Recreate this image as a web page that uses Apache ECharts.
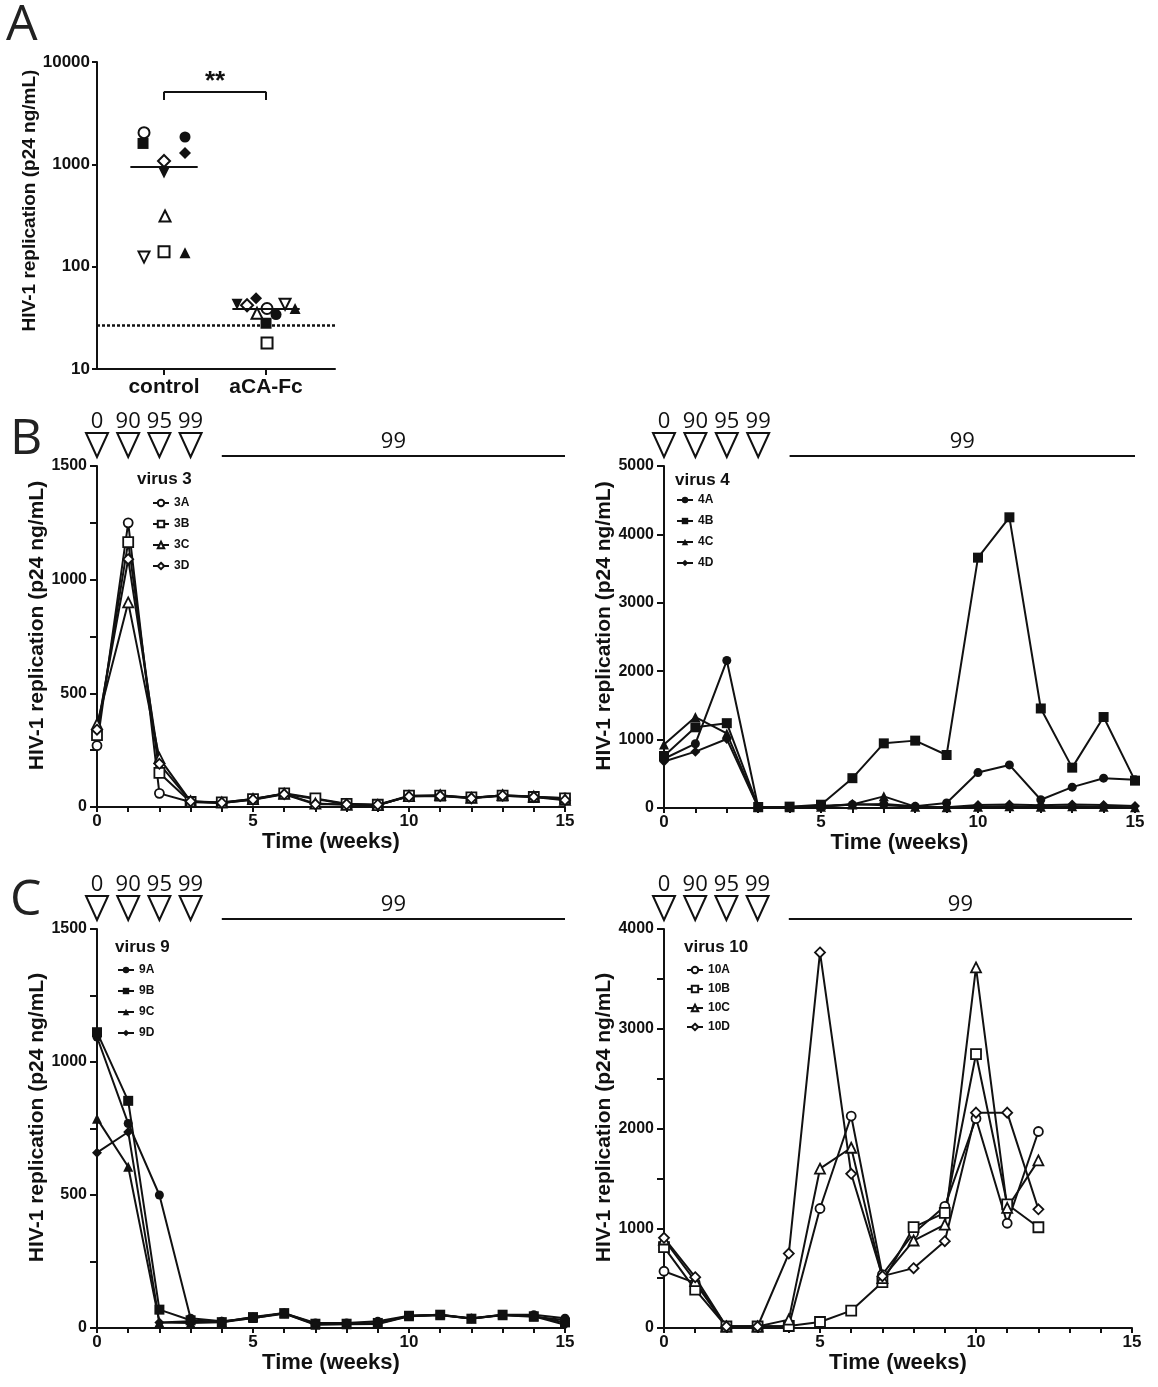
<!DOCTYPE html>
<html lang="en">
<head>
<meta charset="UTF-8">
<title>HIV-1 replication</title>
<script src="https://cdn.jsdelivr.net/npm/echarts@6.0.0/dist/echarts.min.js"></script>
<style>
  html, body { margin: 0; padding: 0; background: #fff; }
  #main { width: 1158px; height: 1387px; }
</style>
</head>
<body>
<div id="main"></div>
<script>
// ---------- data ----------
// panel A: peak p24 per virus, control vs aCA-Fc
const groupNames = ['control', 'aCA-Fc'];
const markerShapes = ['circle', 'circle', 'rect', 'rect', 'triangle', 'triangle', 'triangle', 'triangle', 'diamond', 'diamond'];
const markerFilled = [false, true, false, true, false, true, false, true, false, true];
const markerFlipped = [false, false, false, false, false, false, true, true, false, false];
const controlP24 = [2040, 1850, 140, 1600, 313, 137, 124, 822, 1077, 1290];
const acaFcP24 = [39, 34, 18, 28, 35, 39, 43, 43, 42, 49];
const detectionLimit = 27;
const aTicks = [10, 100, 1000, 10000];

// panels B / C: weekly p24 (ng/mL)
const weeks = [0, 1, 2, 3, 4, 5, 6, 7, 8, 9, 10, 11, 12, 13, 14, 15];
const v3A = [270, 1250, 60, 22, 18, 33, 58, 35, 12, 8, 48, 50, 40, 52, 45, 40];
const v3B = [316, 1165, 150, 22, 20, 35, 60, 38, 14, 10, 50, 50, 42, 50, 44, 38];
const v3C = [365, 900, 215, 25, 20, 35, 58, 15, 10, 8, 48, 52, 40, 52, 46, 32];
const v3D = [340, 1090, 190, 25, 18, 32, 56, 12, 12, 10, 46, 48, 38, 50, 44, 30];

const v4A = [720, 940, 2156, 15, 15, 34, 48, 60, 24, 73, 518, 630, 121, 305, 436, 412];
const v4B = [760, 1180, 1240, 15, 20, 48, 436, 945, 985, 775, 3660, 4250, 1455, 590, 1330, 400];
const v4C = [930, 1330, 1090, 10, 10, 20, 50, 170, 20, 10, 20, 25, 20, 25, 20, 10];
const v4D = [680, 824, 1008, 10, 10, 20, 60, 40, 20, 10, 45, 50, 40, 50, 45, 30];

const v9A = [1094, 769, 500, 37, 25, 37, 56, 19, 19, 25, 46, 50, 37, 50, 50, 37];
const v9B = [1112, 854, 69, 29, 22, 41, 56, 16, 16, 19, 46, 50, 35, 50, 44, 21];
const v9C = [787, 606, 21, 19, 22, 38, 54, 12, 14, 15, 44, 48, 36, 48, 42, 30];
const v9D = [659, 737, 21, 25, 24, 40, 55, 14, 15, 17, 45, 49, 36, 49, 44, 12];

const v10A = [569, 452, 17, 17, 20, 1198, 2125, 535, 950, 1220, 2100, 1050, 1970];
const v10B = [810, 385, 15, 15, 20, 60, 174, 459, 1011, 1155, 2745, 1240, 1010];
const v10C = [887, 470, 15, 15, 84, 1597, 1807, 500, 877, 1037, 3615, 1205, 1680];
const v10D = [904, 509, 15, 15, 746, 3765, 1546, 520, 600, 870, 2159, 2159, 1190];

// dosing schedule (% inhibitory concentration)
const doseWeeks = [0, 1, 2, 3];
const doseLabels = ['0', '90', '95', '99'];
const maintenanceWeeks = [4, 15];
const maintenanceLabel = '99';

// ---------- look ----------
const FONT = '"Liberation Sans", Arial, sans-serif';
const INK = '#111';
const yName = 'HIV-1 replication (p24 ng/mL)';
const seriesShapes = ['circle', 'rect', 'triangle', 'diamond'];

// jitter of the dot plot (px), style only
const controlJitter = [-20, 21, 0, -21, 1, 21, -20, 0, 0, 21];
const acaFcJitter = [1, 10, 1, 0, -9, 29, 19, -29, -19, -10];

const panels = [
  { grid: { left: 97, top: 466, width: 468, height: 341 }, yMax: 1500, yStep: 250, yLabelStep: 500,
    title: 'virus 3', names: ['3A', '3B', '3C', '3D'], values: [v3A, v3B, v3C, v3D], open: true,
    legend: [152, 496], legendGap: 7, titleAt: [137, 479], nameGap: 42 },
  { grid: { left: 664, top: 466, width: 471, height: 342 }, yMax: 5000, yStep: 1000, yLabelStep: 1000,
    title: 'virus 4', names: ['4A', '4B', '4C', '4D'], values: [v4A, v4B, v4C, v4D], open: false,
    legend: [676, 493], legendGap: 7, titleAt: [675, 480], nameGap: 48 },
  { grid: { left: 97, top: 929, width: 468, height: 399 }, yMax: 1500, yStep: 250, yLabelStep: 500,
    title: 'virus 9', names: ['9A', '9B', '9C', '9D'], values: [v9A, v9B, v9C, v9D], open: false,
    legend: [117, 963], legendGap: 7, titleAt: [115, 947], nameGap: 42 },
  { grid: { left: 664, top: 929, width: 468, height: 399 }, yMax: 4000, yStep: 500, yLabelStep: 1000,
    title: 'virus 10', names: ['10A', '10B', '10C', '10D'], values: [v10A, v10B, v10C, v10D], open: true,
    legend: [686, 963], legendGap: 5, titleAt: [684, 947], nameGap: 46 }
];

const boldText = (size) => ({ fontFamily: FONT, fontWeight: 'bold', fontSize: size, color: INK });

const grids = [{ left: 97, top: 62, width: 238, height: 307 }];
const xAxes = [{
  type: 'value', gridIndex: 0, min: 0.343, max: 2.676,
  axisLine: { show: true, onZero: false, lineStyle: { color: INK, width: 2 } },
  axisTick: { show: true, length: 6, customValues: [1, 2], lineStyle: { color: INK, width: 2 } },
  axisLabel: { show: true, margin: 8, customValues: [1, 2], ...boldText(21),
    formatter: v => groupNames[Math.round(v) - 1] || '' },
  splitLine: { show: false }
}];
const yAxes = [{
  type: 'log', gridIndex: 0, logBase: 10, min: 10, max: 10000,
  name: yName, nameLocation: 'middle', nameGap: 54,
  nameTextStyle: { ...boldText(19), padding: [0, 0, 0, 30] },
  axisLine: { show: true, lineStyle: { color: INK, width: 2 } },
  axisTick: { show: true, length: 5, customValues: aTicks, lineStyle: { color: INK, width: 2 } },
  axisLabel: { show: true, margin: 7, customValues: aTicks, ...boldText(17), formatter: v => String(Math.round(v)) },
  splitLine: { show: false }, minorTick: { show: false }
}];

// panel A dot plot
function median(arr) {
  const s = arr.slice().sort((a, b) => a - b);
  const m = s.length / 2;
  return s.length % 2 ? s[Math.floor(m)] : (s[m - 1] + s[m]) / 2;
}
function dotSeries(gi, values, jitter) {
  const pos = gi + 1;
  const med = median(values);
  return {
    name: groupNames[gi], type: 'scatter', xAxisIndex: 0, yAxisIndex: 0, z: 4,
    data: values.map((v, i) => ({
      value: [pos, v],
      symbol: markerShapes[i],
      symbolSize: markerShapes[i] === 'diamond' ? 12 : 11,
      symbolRotate: markerFlipped[i] ? 180 : 0,
      symbolOffset: [jitter[i], 0],
      itemStyle: { color: markerFilled[i] ? INK : '#fff', borderColor: INK, borderWidth: markerFilled[i] ? 0 : 2, opacity: 1 }
    })),
    emphasis: { disabled: true },
    markLine: {
      silent: true, animation: false, symbol: ['none', 'none'],
      label: { show: false },
      lineStyle: { color: INK, width: 2, type: 'solid' },
      data: [[{ coord: [pos - 0.33, med] }, { coord: [pos + 0.33, med] }]]
    }
  };
}
const series = [dotSeries(0, controlP24, controlJitter), dotSeries(1, acaFcP24, acaFcJitter)];

// bracket, ** and detection limit
const bracketLow = 4250, bracketHigh = 5130;
series.push({
  name: 'annotations', type: 'scatter', xAxisIndex: 0, yAxisIndex: 0, data: [],
  markLine: {
    silent: true, animation: false, symbol: ['none', 'none'],
    label: { show: false },
    lineStyle: { color: INK, width: 2, type: 'solid' },
    data: [
      [{ coord: [1, bracketLow] }, { coord: [1, bracketHigh] }],
      [{ coord: [1, bracketHigh], label: { show: true, formatter: '**', position: 'insideMiddleTop', distance: -3, ...boldText(26) } },
       { coord: [2, bracketHigh] }],
      [{ coord: [2, bracketHigh] }, { coord: [2, bracketLow] }],
      { yAxis: detectionLimit, lineStyle: { type: [3, 2], width: 2.5, color: INK } }
    ]
  }
});

// panels B / C
const legends = [];
panels.forEach((p, k) => {
  const gi = k + 1;
  grids.push(p.grid);
  xAxes.push({
    type: 'value', gridIndex: gi, min: 0, max: 15, interval: 1,
    name: 'Time (weeks)', nameLocation: 'middle', nameGap: 24, nameTextStyle: boldText(22),
    axisLine: { show: true, onZero: false, lineStyle: { color: INK, width: 2 } },
    axisTick: { show: true, length: 5, lineStyle: { color: INK, width: 2 } },
    axisLabel: { show: true, margin: 6, ...boldText(17), formatter: v => (v % 5 === 0 ? String(v) : '') },
    splitLine: { show: false }
  });
  yAxes.push({
    type: 'value', gridIndex: gi, min: 0, max: p.yMax, interval: p.yStep,
    name: yName, nameLocation: 'middle', nameGap: p.nameGap,
    nameTextStyle: { ...boldText(21), padding: [0, 0, 0, 22] },
    axisLine: { show: true, onZero: false, lineStyle: { color: INK, width: 2 } },
    axisTick: { show: true, length: 7, lineStyle: { color: INK, width: 2 } },
    axisLabel: { show: true, margin: 10, ...boldText(16), formatter: v => (v % p.yLabelStep === 0 ? String(v) : '') },
    splitLine: { show: false }
  });
  p.names.forEach((nm, j) => {
    const shape = seriesShapes[j];
    series.push({
      name: nm, type: 'line', xAxisIndex: gi, yAxisIndex: gi, z: 3,
      data: p.values[j].map((v, i) => [weeks[i], v]),
      symbol: shape, symbolSize: shape === 'circle' ? 9 : 10, showSymbol: true,
      lineStyle: { color: INK, width: 2 },
      itemStyle: { color: p.open ? '#fff' : INK, borderColor: INK, borderWidth: p.open ? 1.8 : 0 },
      emphasis: { disabled: true }
    });
  });
  legends.push({
    orient: 'vertical', left: p.legend[0], top: p.legend[1], padding: 0,
    itemWidth: 16, itemHeight: 8, itemGap: p.legendGap, selectedMode: false,
    textStyle: { ...boldText(12), lineHeight: 14 },
    data: p.names
  });
});

const chart = echarts.init(document.getElementById('main'));
chart.setOption({
  backgroundColor: '#fff',
  animation: false,
  grid: grids,
  xAxis: xAxes,
  yAxis: yAxes,
  legend: legends,
  series: series
});

// dosing triangles, labels, panel letters
const graphics = [];
const letter = (t, x, y) => graphics.push({ type: 'text', x, y,
  style: { text: t, font: '50px "Open Sans", sans-serif', fill: '#222', verticalAlign: 'middle' } });
letter('A', 6, 26);
letter('B', 10, 440);
letter('C', 10, 901);

panels.forEach((p, k) => {
  const gi = k + 1;
  const top = p.grid.top;
  const px = w => chart.convertToPixel({ gridIndex: gi }, [w, 0])[0];
  doseWeeks.forEach((w, i) => {
    const x = px(w);
    graphics.push({ type: 'polygon', shape: { points: [[x - 11, top - 33], [x + 11, top - 33], [x, top - 9]] },
      style: { fill: '#fff', stroke: INK, lineWidth: 2 } });
    graphics.push({ type: 'text', x, y: top - 44,
      style: { text: doseLabels[i], font: '22px "Open Sans", sans-serif', fill: INK, align: 'center', verticalAlign: 'middle' } });
  });
  const x0 = px(maintenanceWeeks[0]), x1 = px(maintenanceWeeks[1]);
  graphics.push({ type: 'line', shape: { x1: x0, y1: top - 10, x2: x1, y2: top - 10 }, style: { stroke: INK, lineWidth: 2 } });
  graphics.push({ type: 'text', x: (x0 + x1) / 2, y: top - 24,
    style: { text: maintenanceLabel, font: '22px "Open Sans", sans-serif', fill: INK, align: 'center', verticalAlign: 'middle' } });
  graphics.push({ type: 'text', x: p.titleAt[0], y: p.titleAt[1],
    style: { text: p.title, font: 'bold 17px ' + FONT, fill: INK, verticalAlign: 'middle' } });
});

chart.setOption({ graphic: graphics });
</script>
</body>
</html>
